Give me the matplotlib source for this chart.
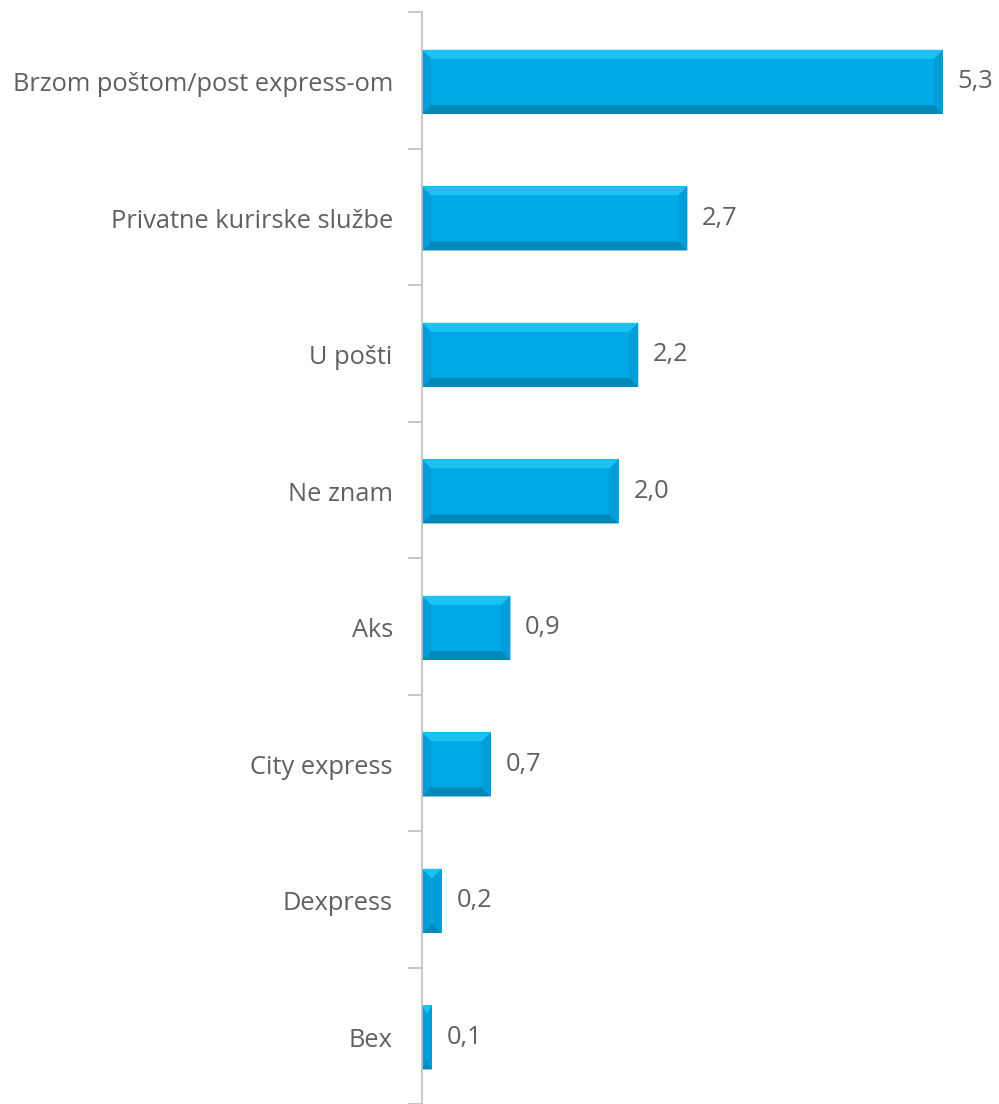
import matplotlib.pyplot as plt
from matplotlib.patches import Polygon
import numpy as np

categories = ['Brzom poštom/post express-om', 'Privatne kurirske službe', 'U pošti',
              'Ne znam', 'Aks', 'City express', 'Dexpress', 'Bex']
values = [5.3, 2.7, 2.2, 2.0, 0.9, 0.7, 0.2, 0.1]
labels = ['5,3', '2,7', '2,2', '2,0', '0,9', '0,7', '0,2', '0,1']

plt.rcParams['font.family'] = ['Open Sans', 'DejaVu Sans']
grey = '#606060'

fig = plt.figure(figsize=(9.99, 11.04), dpi=100)
ax = fig.add_axes([422 / 999, 0.0, 577 / 999, 1092 / 1104])

xmax = 577 / 98.3
ax.set_xlim(0, xmax)
ax.set_ylim(7.5, -0.5)

h = 0.47
off = 0.012  # bars sit a touch below the category centre
# bevel size in data units (about 9 px)
bx = 9 / 98.3
by = 9 / 136.5


def bevel_bar(ax, y, w):
    x0, x1 = 0, w
    y0, y1 = y - h / 2 + off, y + h / 2 + off
    ex = min(bx, w / 2)
    ey = by
    ax.add_patch(Polygon([(x0, y0), (x1, y0), (x1, y1), (x0, y1)], closed=True,
                         facecolor='#00A9E6', edgecolor='none'))
    # top edge (inverted axis, so y0 is on top)
    ax.add_patch(Polygon([(x0, y0), (x1, y0), (x1 - ex, y0 + ey), (x0 + ex, y0 + ey)],
                         facecolor='#1CC3F2', edgecolor='none'))
    # bottom edge
    ax.add_patch(Polygon([(x0, y1), (x1, y1), (x1 - ex, y1 - ey), (x0 + ex, y1 - ey)],
                         facecolor='#0088B8', edgecolor='none'))
    # left edge
    ax.add_patch(Polygon([(x0, y0), (x0 + ex, y0 + ey), (x0 + ex, y1 - ey), (x0, y1)],
                         facecolor='#009DD8', edgecolor='none'))
    # right edge
    ax.add_patch(Polygon([(x1, y0), (x1 - ex, y0 + ey), (x1 - ex, y1 - ey), (x1, y1)],
                         facecolor='#009DD8', edgecolor='none'))


ypos = np.arange(len(categories))
for y, v, lab in zip(ypos, values, labels):
    bevel_bar(ax, y, v)
    ax.text(v + 0.15, y + off, lab, va='center', ha='left', fontsize=18.3, color=grey)

ax.set_yticks(ypos + off)
ax.set_yticklabels(categories, fontsize=18.3, color=grey)
ax.tick_params(axis='y', which='major', length=0, pad=21)
ax.set_yticks(np.arange(-0.5, 8, 1), minor=True)
ax.tick_params(axis='y', which='minor', length=10, color='#BFBFBF', width=1.2)
ax.set_xticks([])

for s in ['top', 'right', 'bottom']:
    ax.spines[s].set_visible(False)
ax.spines['left'].set_color('#BFBFBF')
ax.spines['left'].set_linewidth(1.2)

fig.savefig('out.png', dpi=100)
